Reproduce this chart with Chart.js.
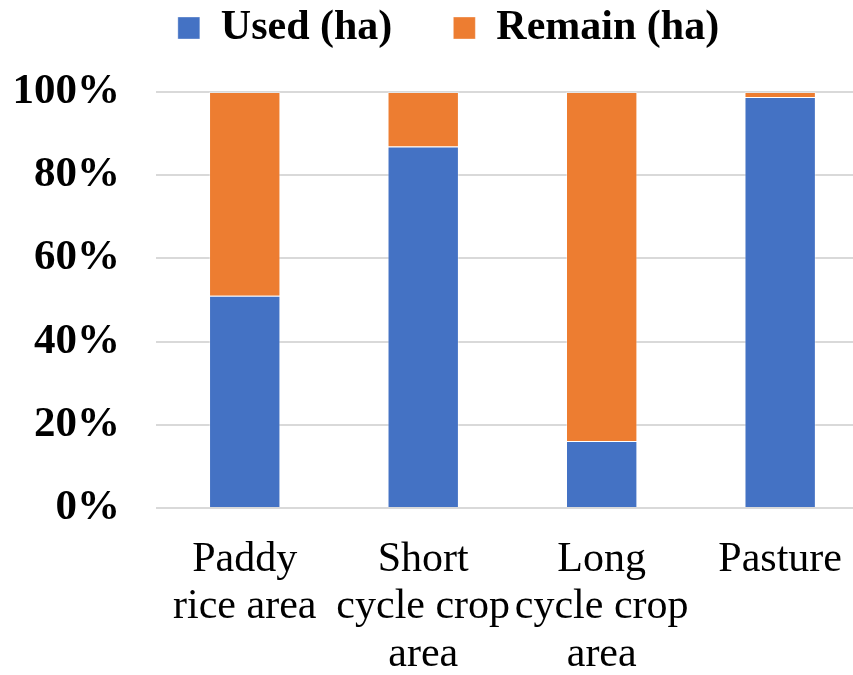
<!DOCTYPE html>
<html>
<head>
<meta charset="utf-8">
<script src="https://cdn.jsdelivr.net/npm/chart.js@4/dist/chart.umd.min.js"></script>
<style>
  html, body { margin: 0; padding: 0; background: #ffffff; overflow: hidden; }
  #wrap { position: relative; width: 871px; height: 675px; }
</style>
</head>
<body>
<div id="wrap"><canvas id="c"></canvas></div>
<script>
const categories = [["Paddy", "rice area"], ["Short", "cycle crop", "area"], ["Long", "cycle crop", "area"], "Pasture"];
const usedPct = [51.0, 86.9, 16.1, 98.8];
const remainPct = [49.0, 13.1, 83.9, 1.2];
const yTicks = ["0%", "20%", "40%", "60%", "80%", "100%"];

const legendFix = {
  id: 'legendFix',
  beforeLayout(chart) {
    const lg = chart.legend;
    if (lg && !lg._fixed) {
      const f = lg.fit.bind(lg);
      lg.fit = function () { f(); this.height = 146; };
      lg._fixed = true;
    }
  },
  afterLayout(chart) {
    if (chart.legend) { chart.legend.left += 26; }
  }
};

new Chart(document.getElementById('c'), {
  type: 'bar',
  data: {
    labels: categories,
    datasets: [
      { label: 'Used (ha)', data: usedPct, backgroundColor: '#4472C4', borderColor: 'rgba(255,255,255,0.35)', borderWidth: 1, barPercentage: 0.4, categoryPercentage: 1.0 },
      { label: 'Remain (ha)', data: remainPct, backgroundColor: '#ED7D31', borderColor: 'rgba(255,255,255,0.35)', borderWidth: 1, barPercentage: 0.4, categoryPercentage: 1.0 }
    ]
  },
  options: {
    responsive: true,
    maintainAspectRatio: false,
    animation: false,
    layout: { padding: { top: -54, left: 0, right: 0, bottom: -32 } },
    plugins: {
      tooltip: { enabled: false },
      legend: {
        position: 'top',
        labels: {
          boxWidth: 22,
          boxHeight: 22,
          padding: 61,
          color: '#000000',
          font: { family: '"Liberation Serif", "Times New Roman", serif', size: 42, weight: 'bold' }
        }
      }
    },
    scales: {
      x: {
        stacked: true,
        grid: { display: false, drawTicks: false },
        border: { display: false },
        ticks: {
          padding: 29,
          color: '#000000',
          maxRotation: 0,
          autoSkip: false,
          font: { family: '"Liberation Serif", "Times New Roman", serif', size: 42, lineHeight: 1.12 }
        }
      },
      y: {
        stacked: true,
        min: 0,
        max: 100,
        afterFit(scale) { scale.width = 155.5; },
        grid: { color: '#d9d9d9', lineWidth: 2, drawTicks: false },
        border: { display: false },
        ticks: {
          stepSize: 20,
          padding: 35.5,
          color: '#000000',
          callback: (v) => yTicks[Math.round(v / 20)],
          font: { family: '"Liberation Serif", "Times New Roman", serif', size: 43, weight: 'bold' }
        }
      }
    }
  },
  plugins: [legendFix]
});
</script>
</body>
</html>
